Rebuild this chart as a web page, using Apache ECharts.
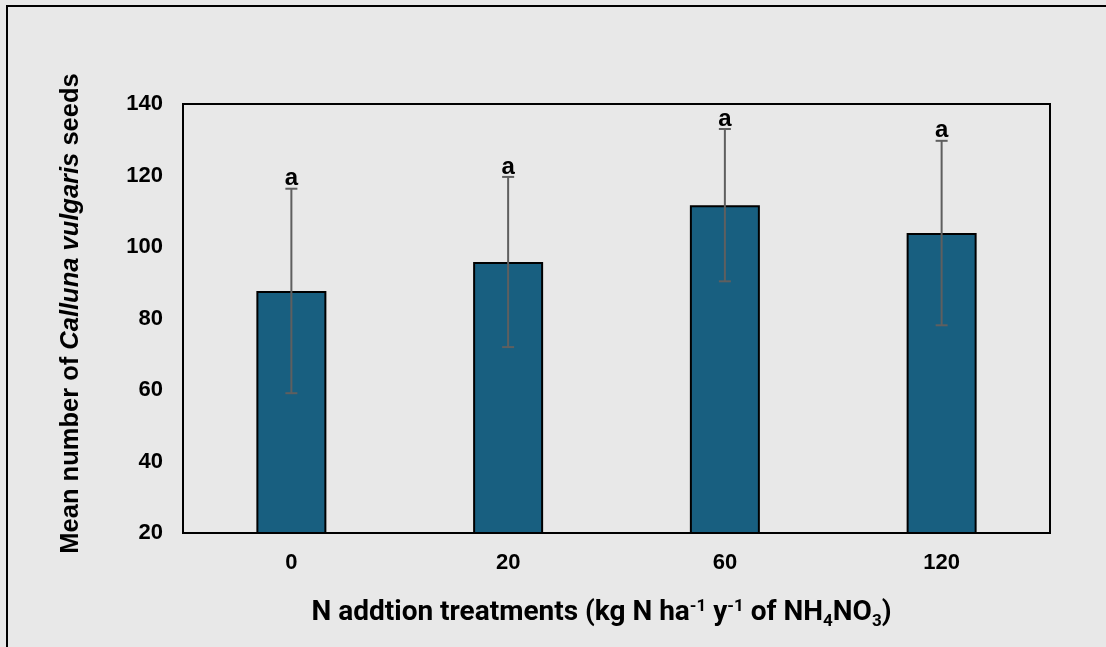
<!DOCTYPE html>
<html>
<head>
<meta charset="utf-8">
<script src="https://cdn.jsdelivr.net/npm/echarts@6/dist/echarts.min.js"></script>
<style>
html,body{margin:0;padding:0;background:#e8e8e8;}
#chart{width:1106px;height:647px;}
</style>
</head>
<body>
<div id="chart"></div>
<script>
var categories = ['0', '20', '60', '120'];
var means = [87.7, 95.8, 111.7, 103.9];
var errors = [28.6, 23.8, 21.3, 25.8];
var letters = ['a', 'a', 'a', 'a'];
var yTicks = [20, 40, 60, 80, 100, 120, 140];

var chart = echarts.init(document.getElementById('chart'), null, {renderer: 'canvas'});

var errData = categories.map(function (c, i) {
  return [i, means[i] - errors[i], means[i] + errors[i], letters[i]];
});

var option = {
  backgroundColor: '#e8e8e8',
  animation: false,
  graphic: [{
    type: 'rect',
    shape: {x: 7, y: 6, width: 1200, height: 700},
    style: {fill: 'none', stroke: '#000', lineWidth: 2},
    z: 100
  }],
  grid: {
    left: 183, right: 56, top: 104, bottom: 114,
    show: true, borderColor: '#000', borderWidth: 2, backgroundColor: 'transparent'
  },
  xAxis: {
    type: 'category',
    data: categories,
    axisLine: {show: true, lineStyle: {color: '#000', width: 2}},
    axisTick: {show: false},
    axisLabel: {color: '#000', fontFamily: 'Liberation Sans', fontWeight: 'bold', fontSize: 22, margin: 19},
    name: '{n|N addtion treatments (kg N ha}{sup|-1}{n| y}{sup|-1}{n| of NH}{sub|4}{n|NO}{sub|3}{n|)}',
    nameLocation: 'middle',
    nameGap: 62,
    nameTextStyle: {
      padding: [0, 30, 0, 0],
      rich: {
        n: {fontFamily: 'Roboto', fontWeight: 'bold', fontSize: 28, color: '#000', lineHeight: 36, verticalAlign: 'middle'},
        sup: {fontFamily: 'Roboto', fontWeight: 'bold', fontSize: 17, color: '#000', verticalAlign: 'top', padding: [3, 0, 0, 0]},
        sub: {fontFamily: 'Roboto', fontWeight: 'bold', fontSize: 17, color: '#000', verticalAlign: 'bottom', padding: [0, 0, 1, 0]}
      }
    }
  },
  yAxis: {
    type: 'value',
    min: 20, max: 140, interval: 20,
    splitLine: {show: false},
    axisLine: {show: true, lineStyle: {color: '#000', width: 2}},
    axisTick: {show: false},
    axisLabel: {color: '#000', fontFamily: 'Liberation Sans', fontWeight: 'bold', fontSize: 22, margin: 20},
    name: '{n|Mean number of }{i|Calluna vulgaris}{n| seeds}',
    nameLocation: 'middle',
    nameRotate: 90,
    nameGap: 99,
    nameTextStyle: {
      padding: [0, 0, 0, 10],
      rich: {
        n: {fontFamily: 'Liberation Sans', fontWeight: 'bold', fontSize: 25.5, color: '#000'},
        i: {fontFamily: 'Liberation Sans', fontWeight: 'bold', fontStyle: 'italic', fontSize: 25.5, color: '#000'}
      }
    }
  },
  series: [{
    type: 'bar',
    data: means,
    barWidth: 70,
    itemStyle: {color: '#185f80', borderColor: '#000', borderWidth: 2},
    z: 2
  }, {
    type: 'custom',
    data: errData,
    z: 5,
    renderItem: function (params, api) {
      var x = api.value(0);
      var lo = api.coord([x, api.value(1)]);
      var hi = api.coord([x, api.value(2)]);
      var cap = 6;
      var st = {stroke: '#5f5f5f', lineWidth: 2};
      return {
        type: 'group',
        children: [
          {type: 'line', shape: {x1: hi[0], y1: hi[1], x2: lo[0], y2: lo[1]}, style: st},
          {type: 'line', shape: {x1: hi[0] - cap, y1: hi[1], x2: hi[0] + cap, y2: hi[1]}, style: st},
          {type: 'line', shape: {x1: lo[0] - cap, y1: lo[1], x2: lo[0] + cap, y2: lo[1]}, style: st},
          {type: 'text', style: {text: api.value(3), x: hi[0], y: hi[1] + 2, align: 'center', verticalAlign: 'bottom',
            fill: '#000', fontSize: 24, fontWeight: 'bold', fontFamily: 'Liberation Sans'}}
        ]
      };
    }
  }]
};
chart.setOption(option);
</script>
</body>
</html>
